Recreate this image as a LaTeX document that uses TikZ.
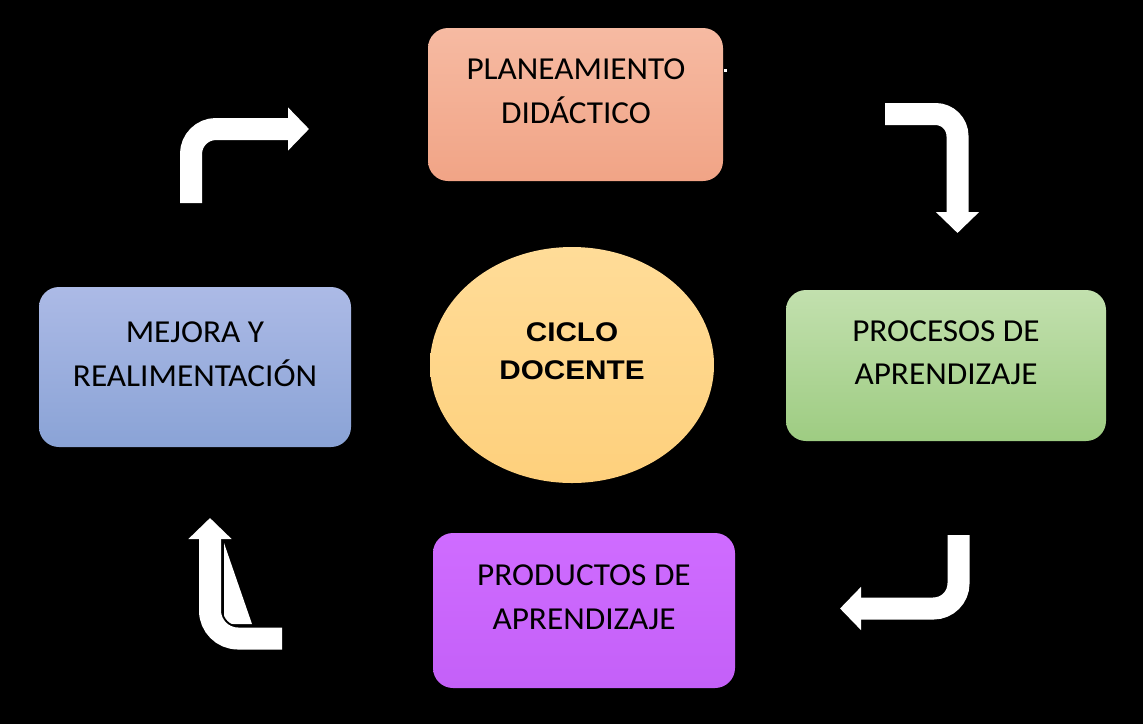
\documentclass[tikz,border=0pt]{standalone}
\usepackage{fontspec}
\usetikzlibrary{shapes.geometric,arrows.meta}
\newfontfamily\boxfont[FakeStretch=1.04]{Carlito}
\newfontfamily\cicfont[FakeStretch=1.1]{Liberation Sans}
\definecolor{planT}{RGB}{246,186,162}
\definecolor{planB}{RGB}{241,164,134}
\definecolor{procT}{RGB}{194,224,174}
\definecolor{procB}{RGB}{158,204,130}
\definecolor{prodT}{RGB}{207,108,255}
\definecolor{prodB}{RGB}{196,96,248}
\definecolor{mejT}{RGB}{172,186,230}
\definecolor{mejB}{RGB}{138,163,214}
\definecolor{cicT}{RGB}{255,220,152}
\definecolor{cicB}{RGB}{254,208,124}
\tikzset{
  stagebox/.style={rectangle, rounded corners=20pt, inner sep=0pt, draw=none},
  stagetext/.style={align=center, text=black, inner sep=0pt, font=\boxfont\fontsize{32}{43.5}\selectfont},
  cycarrow/.style={draw=white, line width=22pt, -{Triangle[width=42pt,length=21pt]}},
}
\begin{document}
\begin{tikzpicture}[x=1pt,y=-1pt]
\fill[black] (0,0) rectangle (1143,724);
\useasboundingbox (0,0) rectangle (1143,724);
% boxes
\node[stagebox, top color=planT, bottom color=planB, minimum width=295pt, minimum height=153pt] (plan) at (575.5,104.5) {};
\node[stagetext] (plant) at (576,91) {PLANEAMIENTO\\DIDÁCTICO};
\node[stagebox, top color=procT, bottom color=procB, minimum width=320pt, minimum height=151pt] (proc) at (946,365.5) {};
\node[stagetext] (proct) at (946,352.5) {PROCESOS DE\\APRENDIZAJE};
\node[stagebox, top color=prodT, bottom color=prodB, minimum width=302pt, minimum height=155pt] (prod) at (584,610.5) {};
\node[stagetext] (prodt) at (584,597) {PRODUCTOS DE\\APRENDIZAJE};
\node[stagebox, top color=mejT, bottom color=mejB, minimum width=312pt, minimum height=160pt] (mej) at (195,367) {};
\node[stagetext] (mejt) at (195,354) {MEJORA Y\\REALIMENTACIÓN};
% center ellipse
\node[ellipse, inner sep=0pt, top color=cicT, bottom color=cicB, minimum width=284pt, minimum height=236pt] (cic) at (572,365) {};
\node[align=center, inner sep=0pt, font=\cicfont\bfseries\fontsize{27}{38}\selectfont] (cict) at (572,351) {CICLO\\DOCENTE};
% arrows
\coordinate (a1s) at (191,203); \coordinate (a1c) at (191,129); \coordinate (a1e) at (309,129);
\coordinate (a2s) at (885,114); \coordinate (a2c) at (957.5,114); \coordinate (a2e) at (957.5,233);
\coordinate (a3s) at (958.5,535); \coordinate (a3c) at (958.5,608.5); \coordinate (a3e) at (840,608.5);
\coordinate (a4s) at (282,638.5); \coordinate (a4c) at (210,638.5); \coordinate (a4e) at (210,518);
\coordinate (a4b) at (210,540);
\draw[cycarrow, rounded corners=25pt] (a1s) -- (a1c) -- (a1e);
\draw[cycarrow, rounded corners=22pt] (a2s) -- (a2c) -- (a2e);
\draw[cycarrow, rounded corners=25pt] (a3s) -- (a3c) -- (a3e);
\fill[white] (224,543) -- (252,624) -- (224,624) -- cycle;
\draw[black, line width=26pt, rounded corners=28pt] (a4s) -- (a4c) -- (a4b);
\draw[cycarrow, rounded corners=28pt] (a4s) -- (a4c) -- (a4e);
\fill[white] (724,69) rectangle (727,72);
\end{tikzpicture}
\end{document}
